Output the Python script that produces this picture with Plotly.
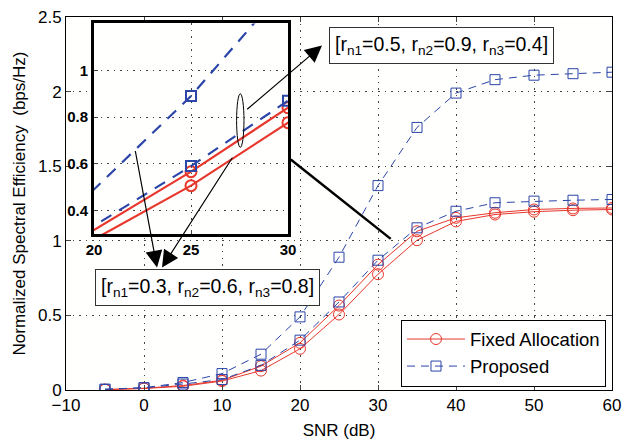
import plotly.graph_objects as go

# ---- data ----
snr = [-5, 0, 5, 10, 15, 20, 25, 30, 35, 40, 45, 50, 55, 60]
# set A: [rn1=0.5, rn2=0.9, rn3=0.4]
proposed_a = [0.005, 0.015, 0.04, 0.07, 0.165, 0.334, 0.59, 0.87, 1.087, 1.198, 1.255, 1.266, 1.272, 1.277]
fixed_a = [0.003, 0.012, 0.03, 0.065, 0.16, 0.316, 0.566, 0.84, 1.064, 1.154, 1.188, 1.21, 1.217, 1.22]
# set B: [rn1=0.3, rn2=0.6, rn3=0.8]
proposed_b = [0.005, 0.015, 0.05, 0.11, 0.24, 0.49, 0.89, 1.37, 1.76, 1.99, 2.08, 2.11, 2.12, 2.13]
fixed_b = [0.002, 0.01, 0.025, 0.06, 0.13, 0.276, 0.506, 0.776, 1.004, 1.13, 1.176, 1.195, 1.205, 1.21]

inset_x_ticks = [20, 25, 30]
inset_y_ticks = [0.4, 0.6, 0.8, 1.0]
inset_y_text = ["0.4", "0.6", "0.8", "1"]

RED = "#e8372c"
BLUE = "#2b45a8"
FONT = "Liberation Sans, Arial, sans-serif"

fig = go.Figure()

# main traces
series = [
    (fixed_a, RED, "solid", "circle-open", 11, "Fixed Allocation", True),
    (fixed_b, RED, "solid", "circle-open", 11, "Fixed Allocation", False),
    (proposed_a, BLUE, "dash", "square-open", 10, "Proposed", True),
    (proposed_b, BLUE, "dash", "square-open", 10, "Proposed", False),
]
for ys, col, dash, sym, size, name, show in series:
    fig.add_trace(go.Scatter(
        x=snr, y=ys, mode="lines+markers", name=name, showlegend=show,
        line=dict(color=col, width=1, dash=("8px,6px" if dash == "dash" else "solid")),
        marker=dict(symbol=sym, size=size, color=col, line=dict(width=1, color=col)),
        xaxis="x", yaxis="y",
    ))

# inset traces
for ys, col, dash, sym, size, name, show in series:
    fig.add_trace(go.Scatter(
        x=snr, y=ys, mode="lines", showlegend=False,
        line=dict(color=col, width=2.2, dash=("12px,9px" if dash == "dash" else "solid")),
        xaxis="x2", yaxis="y2",
    ))
    mx = [s for s in snr if 25 <= s <= 30]
    my = [v for s, v in zip(snr, ys) if 25 <= s <= 30]
    fig.add_trace(go.Scatter(
        x=mx, y=my, mode="markers", showlegend=False,
        marker=dict(symbol=sym, size=size, color=col, line=dict(width=2, color=col)),
        xaxis="x2", yaxis="y2",
    ))

grid = dict(showgrid=True, gridcolor="#444", griddash="1.5px,5px", gridwidth=1)

fig.update_layout(
    width=624, height=440,
    margin=dict(l=66, r=12, t=17, b=50, autoexpand=False),
    paper_bgcolor="white", plot_bgcolor="#fffffe",
    font=dict(family=FONT, size=17, color="black"),
    xaxis=dict(range=[-10, 60], dtick=10, ticks="inside", ticklen=5, mirror="ticks",
               showline=True, linecolor="black", linewidth=1, zeroline=False, automargin=False,
               title=dict(text="SNR (dB)", standoff=9, font=dict(size=17)),
               tickfont=dict(size=17), **grid),
    yaxis=dict(range=[0, 2.5], dtick=0.5, ticks="inside", ticklen=5, mirror="ticks",
               showline=True, linecolor="black", linewidth=1, zeroline=False, automargin=False,
               title=dict(text="Normalized Spectral Efficiency  (bps/Hz)", standoff=8, font=dict(size=17)),
               tickfont=dict(size=17), **grid),
    xaxis2=dict(domain=[0.0513, 0.4066], anchor="y2", range=[20, 30], automargin=False,
                tickvals=inset_x_ticks, ticks="inside", ticklen=4, mirror=True,
                showline=True, linecolor="black", linewidth=3, zeroline=False,
                tickfont=dict(size=15, weight="bold"), **grid),
    yaxis2=dict(domain=[0.417, 0.9826], anchor="x2", range=[0.297, 1.201], automargin=False,
                tickvals=inset_y_ticks, ticktext=inset_y_text, ticks="inside", ticklen=4,
                mirror=True, showline=True, linecolor="black", linewidth=3, zeroline=False,
                tickfont=dict(size=15, weight="bold"), **grid),
    legend=dict(x=0.989, y=0.189, xanchor="right", yanchor="top",
                bgcolor="white", bordercolor="black", borderwidth=1,
                font=dict(size=18.5), tracegroupgap=0, itemwidth=58),
)

# ellipse in inset
fig.add_shape(type="circle", xref="x2", yref="y2", x0=27.35, x1=27.73, y0=0.67, y1=0.90,
              line=dict(color="black", width=1))
# thick connector line from inset to main curves
fig.add_shape(type="line", xref="x", yref="y", x0=18.81, y0=1.545, x1=31.63, y1=1.013,
              line=dict(color="black", width=2.5))

# label boxes
fig.add_annotation(xref="paper", yref="paper", x=0.6877, y=0.9236, showarrow=False,
                   xanchor="center", yanchor="middle",
                   text="[r<sub>n1</sub>=0.5, r<sub>n2</sub>=0.9, r<sub>n3</sub>=0.4]",
                   font=dict(size=19.5), bgcolor="white", bordercolor="#333", borderwidth=1,
                   borderpad=5)
fig.add_annotation(xref="paper", yref="paper", x=0.26, y=0.2761, showarrow=False,
                   xanchor="center", yanchor="middle",
                   text="[r<sub>n1</sub>=0.3, r<sub>n2</sub>=0.6, r<sub>n3</sub>=0.8]",
                   font=dict(size=19.5), bgcolor="white", bordercolor="#333", borderwidth=1,
                   borderpad=5)

# arrows (head at x,y; tail at ax,ay)
arrows = [
    (22.82, 2.309, 13.04, 1.873),
    (1.67, 0.821, -1.15, 1.612),
    (2.31, 0.821, 11.45, 1.567),
]
for hx, hy, tx, ty in arrows:
    fig.add_annotation(xref="x", yref="y", x=hx, y=hy, axref="x", ayref="y", ax=tx, ay=ty,
                       text="", showarrow=True, arrowhead=2, arrowsize=2.8, arrowwidth=1.2,
                       arrowcolor="black")

fig.write_html("out.html")
